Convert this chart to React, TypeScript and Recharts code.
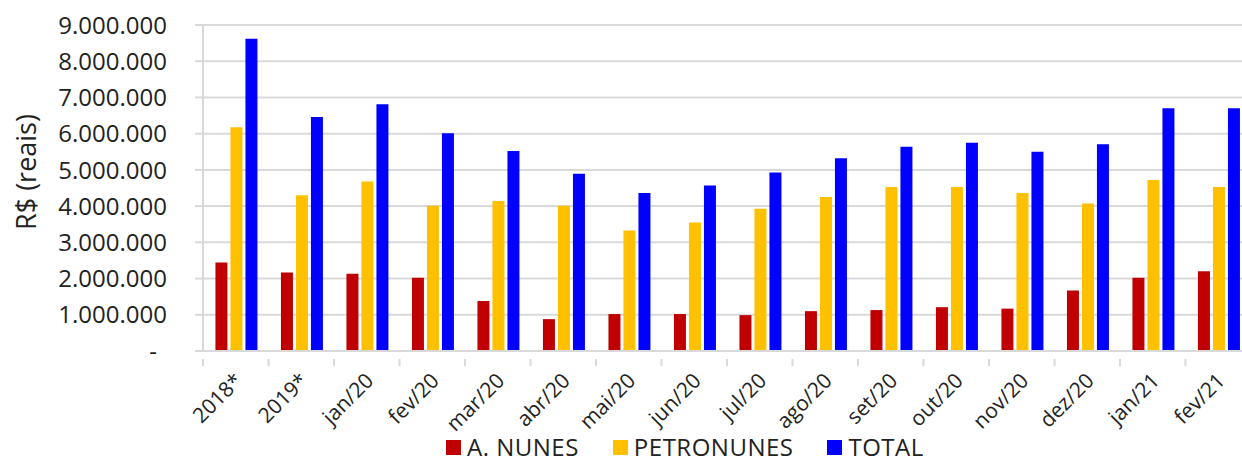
import { Bar, BarChart, CartesianGrid, Legend, XAxis, YAxis } from 'recharts'

const categories = [
  '2018*', '2019*', 'jan/20', 'fev/20', 'mar/20', 'abr/20', 'mai/20', 'jun/20',
  'jul/20', 'ago/20', 'set/20', 'out/20', 'nov/20', 'dez/20', 'jan/21', 'fev/21',
]

const aNunes = [
  2440000, 2170000, 2130000, 2020000, 1380000, 880000, 1020000, 1020000,
  990000, 1100000, 1130000, 1210000, 1170000, 1670000, 2020000, 2200000,
]

const petronunes = [
  6180000, 4300000, 4680000, 4010000, 4140000, 4010000, 3330000, 3550000,
  3930000, 4250000, 4530000, 4530000, 4360000, 4070000, 4720000, 4530000,
]

const total = [
  8620000, 6460000, 6810000, 6010000, 5520000, 4890000, 4360000, 4570000,
  4930000, 5320000, 5640000, 5750000, 5500000, 5710000, 6700000, 6700000,
]

const yTicks = [0, 1000000, 2000000, 3000000, 4000000, 5000000, 6000000, 7000000, 8000000, 9000000]

const seriesInfo = [
  { key: 'aNunes', name: 'A. NUNES', color: '#C00000' },
  { key: 'petronunes', name: 'PETRONUNES', color: '#FFC000' },
  { key: 'total', name: 'TOTAL', color: '#0000FF' },
]

const data = categories.map((period, i) => ({
  period,
  aNunes: aNunes[i],
  petronunes: petronunes[i],
  total: total[i],
}))

const CHART_W = 1251
const CHART_H = 459
const Y_AXIS_W = 203
const FONT = '"Open Sans", "Noto Sans", sans-serif'
const TEXT = '#222'
const GRID = '#D9D9D9'
const band = (CHART_W - Y_AXIS_W) / categories.length

const fmt = (v: number) =>
  v === 0 ? '-' : v.toLocaleString('de-DE')

function YTick(props: any) {
  const { x, y, payload } = props
  const zero = payload.value === 0
  return (
    <text
      x={zero ? x - 10 : x}
      y={y}
      dy="0.36em"
      textAnchor="end"
      fontFamily={FONT}
      fontSize={24}
      fill={TEXT}
    >
      {fmt(payload.value)}
    </text>
  )
}

function XTick(props: any) {
  const { x, y, payload } = props
  const bx = x - band / 2
  const tx = x + 8
  const ty = y + 23
  return (
    <g>
      <line x1={bx} y1={y} x2={bx} y2={y + 7} stroke={GRID} strokeWidth={2} />
      <text
        x={tx}
        y={ty}
        textAnchor="end"
        transform={`rotate(-45, ${tx}, ${ty})`}
        fontFamily={FONT}
        fontSize={21}
        fill={TEXT}
      >
        {payload.value}
      </text>
    </g>
  )
}

function YLabel() {
  return (
    <text
      x={26}
      y={172}
      dy="0.36em"
      textAnchor="middle"
      transform="rotate(-90, 26, 172)"
      fontFamily={FONT}
      fontSize={27}
      fill={TEXT}
    >
      R$ (reais)
    </text>
  )
}

function LegendBox() {
  return (
    <div style={{ display: 'flex', alignItems: 'flex-start', height: 32, paddingTop: 8, boxSizing: 'border-box' }}>
      {seriesInfo.map((s) => (
        <div
          key={s.key}
          style={{ display: 'flex', alignItems: 'center', height: 24, marginRight: 34 }}
        >
          <span
            style={{ width: 15, height: 15, background: s.color, display: 'inline-block', marginRight: 6 }}
          />
          <span
            style={{ fontFamily: FONT, fontSize: 24, color: TEXT, letterSpacing: 0.5, lineHeight: '24px' }}
          >
            {s.name}
          </span>
        </div>
      ))}
    </div>
  )
}

function App() {
  return (
    <div
      style={{
        position: 'absolute',
        left: 0,
        top: 0,
        width: 1242,
        height: 459,
        overflow: 'hidden',
        background: '#fff',
      }}
    >
      <BarChart
        width={CHART_W}
        height={CHART_H}
        data={data}
        margin={{ top: 25, right: 0, bottom: 0, left: 0 }}
        barGap={3}
        barCategoryGap="19%"
      >
        <CartesianGrid vertical={false} stroke={GRID} strokeWidth={2} />
        <XAxis
          dataKey="period"
          interval={0}
          height={76}
          axisLine={{ stroke: GRID, strokeWidth: 2 }}
          tickLine={false}
          tick={<XTick />}
        />
        <YAxis
          width={Y_AXIS_W}
          domain={[0, 9000000]}
          ticks={yTicks}
          interval={0}
          tickSize={8}
          tickMargin={28}
          axisLine={{ stroke: GRID, strokeWidth: 2 }}
          tickLine={{ stroke: GRID, strokeWidth: 2 }}
          tick={<YTick />}
          label={<YLabel />}
        />
        <Legend
          verticalAlign="bottom"
          content={<LegendBox />}
          wrapperStyle={{ left: 446, width: 560, height: 32 }}
        />
        {seriesInfo.map((s) => (
          <Bar
            key={s.key}
            dataKey={s.key}
            name={s.name}
            fill={s.color}
            isAnimationActive={false}
          />
        ))}
      </BarChart>
    </div>
  )
}

export default App
